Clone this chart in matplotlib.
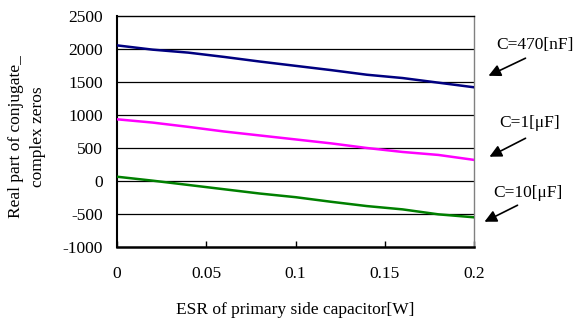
import matplotlib
matplotlib.use("Agg")
import matplotlib.pyplot as plt

esr = [0.0, 0.02, 0.04, 0.06, 0.08, 0.10, 0.12, 0.14, 0.16, 0.18, 0.20]
c470n = [2055, 1990, 1945, 1880, 1810, 1745, 1680, 1610, 1560, 1490, 1420]
c1u = [935, 885, 820, 750, 690, 630, 570, 500, 440, 395, 320]
c10u = [65, 5, -60, -125, -190, -245, -315, -380, -430, -505, -550]
xticks = [0, 0.05, 0.1, 0.15, 0.2]
xticklabels = ["0", "0.05", "0.1", "0.15", "0.2"]
yticks = [-1000, -500, 0, 500, 1000, 1500, 2000, 2500]
labels = ["C=470[nF]", "C=1[μF]", "C=10[μF]"]

plt.rcParams['font.family'] = ['Liberation Serif', 'DejaVu Serif']
fs = 12.5

fig = plt.figure(figsize=(5.77, 3.23), dpi=100)
ax = fig.add_axes([117/577, 1-247/323, (474-117)/577, (247-16)/323])

for yv in yticks[1:-1]:
    ax.axhline(yv, color='black', lw=0.9, zorder=1)

ax.plot(esr, c470n, color='#000080', lw=1.8, zorder=3)
ax.plot(esr, c1u, color='#FF00FF', lw=1.8, zorder=3)
ax.plot(esr, c10u, color='#008000', lw=1.8, zorder=3)

ax.set_xlim(0, 0.2)
ax.set_ylim(-1000, 2500)
ax.set_xticks(xticks)
ax.set_xticklabels(xticklabels, fontsize=fs)
ax.set_yticks(yticks)
ax.set_yticklabels([str(v) for v in yticks], fontsize=fs)
ax.tick_params(axis='x', direction='in', length=4, width=1, pad=14)
ax.tick_params(axis='y', length=0, pad=10)

ax.spines['left'].set_linewidth(1.5)
ax.spines['bottom'].set_linewidth(1.8)
ax.spines['top'].set_linewidth(1.0)
ax.spines['right'].set_color('#808080')
ax.spines['right'].set_linewidth(1.0)

ax.set_xlabel("ESR of primary side capacitor[W]", fontsize=fs, labelpad=14)
fig.text(27/577, 1-137/323, "Real part of conjugate_\ncomplex zeros", rotation=90,
         fontsize=fs, ha='center', va='center', linespacing=1.45)

# annotations in figure pixel coordinates
ann = [
    (labels[0], (535, 45), (528, 57), (486, 77)),
    (labels[1], (530, 123), (528, 137), (487, 158)),
    (labels[2], (528, 193), (520, 204), (482, 223)),
]
for text, tpos, tail, head in ann:
    fig.text(tpos[0]/577, 1-tpos[1]/323, text, fontsize=fs, ha='center', va='center')
    fig.add_artist(matplotlib.patches.FancyArrowPatch(
        (tail[0]/577, 1-tail[1]/323), (head[0]/577, 1-head[1]/323),
        transform=fig.transFigure, arrowstyle='-|>', mutation_scale=18,
        color='black', lw=1.2))

fig.savefig("out.png", dpi=100)
